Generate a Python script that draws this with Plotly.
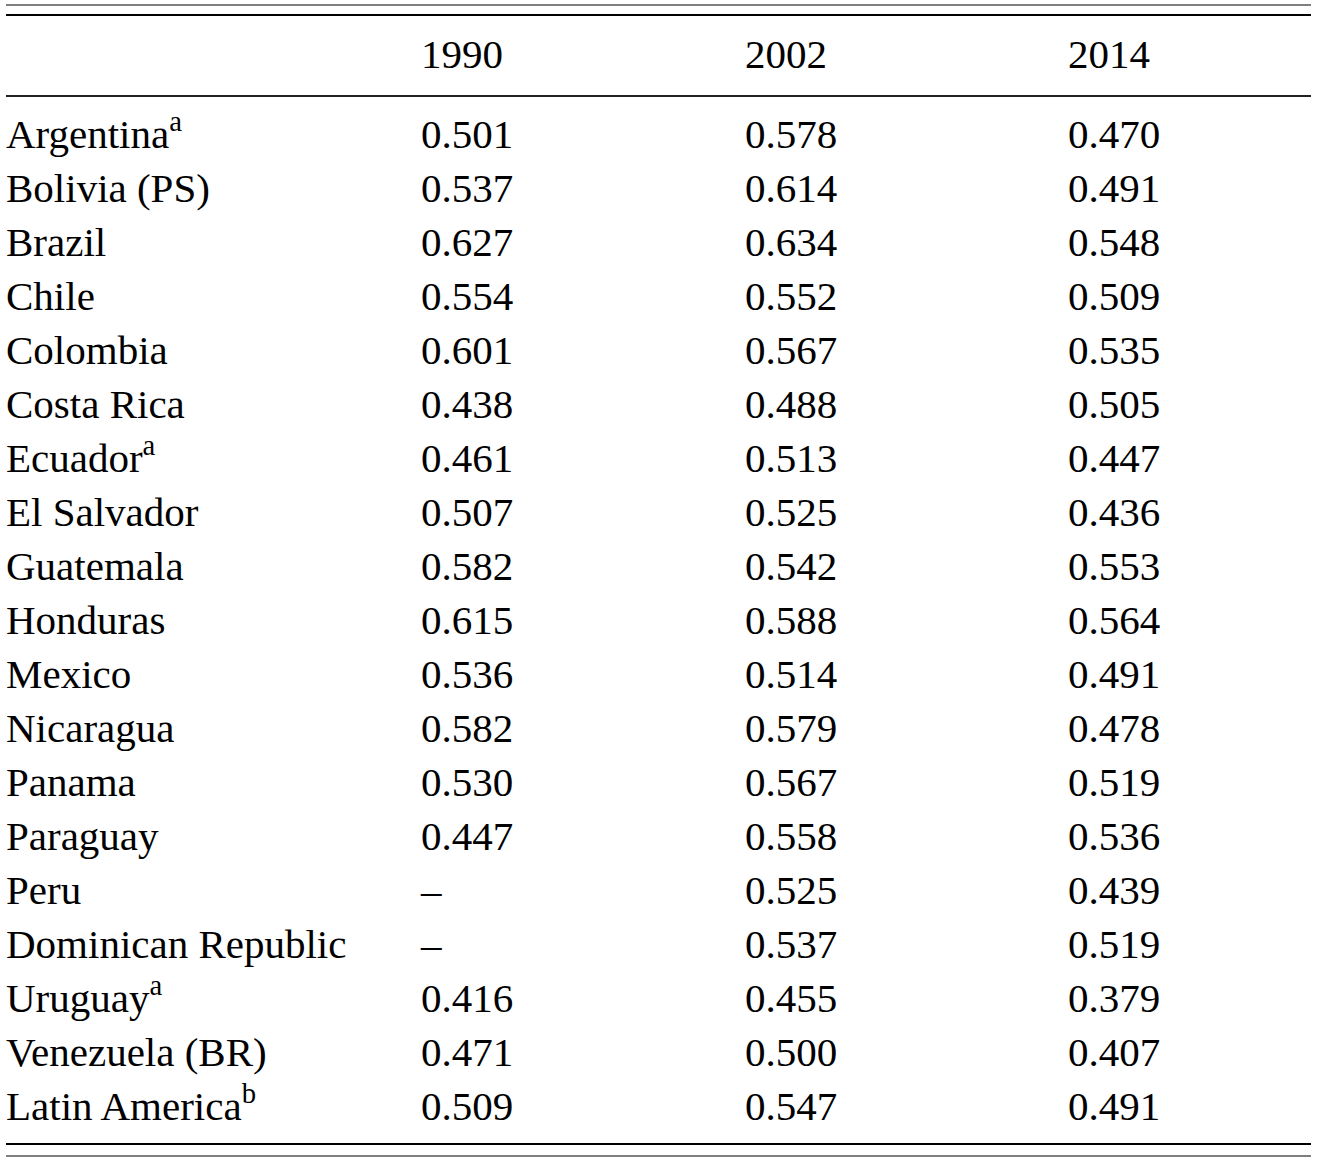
""" Table of Gini-style indices by country, 1990 / 2002 / 2014 """

import plotly.graph_objects as go

years = ["1990", "2002", "2014"]
countries = ["Argentina<sup>a</sup>", "Bolivia (PS)", "Brazil", "Chile", "Colombia",
             "Costa Rica", "Ecuador<sup>a</sup>", "El Salvador", "Guatemala", "Honduras",
             "Mexico", "Nicaragua", "Panama", "Paraguay", "Peru",
             "Dominican Republic", "Uruguay<sup>a</sup>", "Venezuela (BR)",
             "Latin America<sup>b</sup>"]
v1990 = [0.501, 0.537, 0.627, 0.554, 0.601, 0.438, 0.461, 0.507, 0.582, 0.615,
         0.536, 0.582, 0.530, 0.447, None, None, 0.416, 0.471, 0.509]
v2002 = [0.578, 0.614, 0.634, 0.552, 0.567, 0.488, 0.513, 0.525, 0.542, 0.588,
         0.514, 0.579, 0.567, 0.558, 0.525, 0.537, 0.455, 0.500, 0.547]
v2014 = [0.470, 0.491, 0.548, 0.509, 0.535, 0.505, 0.447, 0.436, 0.553, 0.564,
         0.491, 0.478, 0.519, 0.536, 0.439, 0.519, 0.379, 0.407, 0.491]

W, H = 1317, 1163
FONT = dict(family="Liberation Serif", size=41, color="black")
ROW0, ROW_STEP, HEAD_Y = 138, 54, 58
COL_X = [6, 421, 745, 1068]


def fmt(v):
    return "–" if v is None else f"{v:.3f}"


row_y = [ROW0 + ROW_STEP * i for i in range(len(countries))]

fig = go.Figure()

# header
fig.add_trace(go.Scatter(
    x=COL_X[1:], y=[HEAD_Y] * len(years), text=years,
    mode="text", textposition="middle right", textfont=FONT,
    hoverinfo="skip", showlegend=False, cliponaxis=False))

# row labels
fig.add_trace(go.Scatter(
    x=[COL_X[0]] * len(countries), y=row_y, text=countries,
    mode="text", textposition="middle right", textfont=FONT,
    hoverinfo="skip", showlegend=False, cliponaxis=False))

# value columns
for cx, vals in zip(COL_X[1:], [v1990, v2002, v2014]):
    fig.add_trace(go.Scatter(
        x=[cx] * len(vals), y=row_y, text=[fmt(v) for v in vals],
        mode="text", textposition="middle right", textfont=FONT,
        hoverinfo="skip", showlegend=False, cliponaxis=False))

# rules
rules = [(5, 1.3, "#555"), (15, 2.2, "black"), (96, 2, "#222"),
         (1144, 2.2, "black"), (1156, 1.5, "#555")]
for y, w, c in rules:
    fig.add_shape(type="line", x0=6, x1=1311, y0=y, y1=y,
                  line=dict(color=c, width=w))

fig.update_layout(
    width=W, height=H,
    margin=dict(l=0, r=0, t=0, b=0),
    plot_bgcolor="white", paper_bgcolor="white",
    xaxis=dict(range=[0, W], visible=False, fixedrange=True),
    yaxis=dict(range=[H, 0], visible=False, fixedrange=True),
)

# drop the default 8px page margin so the figure fills the window
fig.write_html("out.html", config={"displayModeBar": False},
               post_script="document.body.style.margin='0';")
